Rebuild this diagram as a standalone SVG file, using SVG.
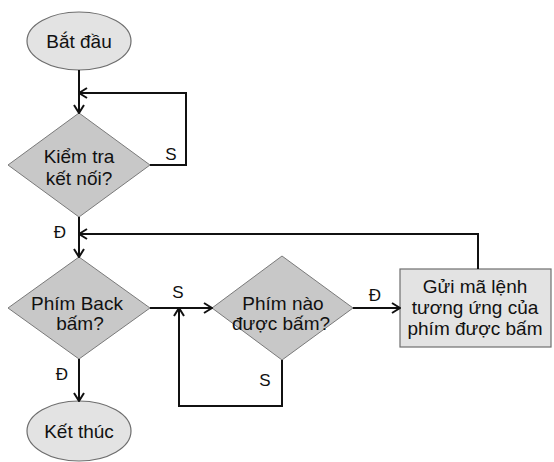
<svg xmlns="http://www.w3.org/2000/svg" width="554" height="462" viewBox="0 0 554 462">
<style>
.term{fill:#e3e3e3;stroke:#6e6e6e;stroke-width:1.2}
.dec{fill:#c8c8c8;stroke:#7a7a7a;stroke-width:1}
.proc{fill:#e3e3e3;stroke:#6e6e6e;stroke-width:1.2}
.t{font-family:"Liberation Sans",Arial,sans-serif;font-size:19px;fill:#111;text-anchor:middle}
.lbl{font-family:"Liberation Sans",Arial,sans-serif;font-size:17px;fill:#111;text-anchor:middle}
.c{fill:none;stroke:#111;stroke-width:2;marker-end:url(#arr)}
</style>
<defs>
<marker id="arr" viewBox="0 0 10 12" markerWidth="10" markerHeight="12" refX="9" refY="6" orient="auto" markerUnits="userSpaceOnUse">
<path d="M1,1 L9,6 L1,11" fill="none" stroke="#111" stroke-width="2"/>
</marker>
</defs>
<g id="start">
<ellipse class="term" cx="79" cy="41" rx="52" ry="29"/>
<text class="t" x="79" y="48">Bắt đầu</text>
</g>
<g id="check">
<polygon class="dec" points="79,113 150,165 79,217 8,165"/>
<text class="t" x="79" y="163">Kiểm tra</text>
<text class="t" x="79" y="185">kết nối?</text>
</g>
<g id="back">
<polygon class="dec" points="79,257 150,308 79,359 8,308"/>
<text class="t" x="77" y="310">Phím Back</text>
<text class="t" x="80" y="330">bấm?</text>
</g>
<g id="which">
<polygon class="dec" points="282,256 353,308 282,360 212,308"/>
<text class="t" x="283" y="310">Phím nào</text>
<text class="t" x="281" y="330">được bấm?</text>
</g>
<g id="send">
<rect class="proc" x="400" y="269" width="151" height="78"/>
<text class="t" x="475" y="293">Gửi mã lệnh</text>
<text class="t" x="475" y="314">tương ứng của</text>
<text class="t" x="475" y="335">phím được bấm</text>
</g>
<g id="end">
<ellipse class="term" cx="79" cy="431" rx="52" ry="30"/>
<text class="t" x="79" y="438">Kết thúc</text>
</g>
<g id="connectors">
<path class="c" d="M79,70 L79,113"/>
<path class="c" d="M150,165 L186,165 L186,93 L79,93"/>
<path class="c" d="M79,217 L79,257"/>
<path class="c" d="M478,269 L478,234 L79,234"/>
<path class="c" d="M150,308 L212,308"/>
<path class="c" d="M282,360 L282,406 L179,406 L179,308"/>
<path class="c" d="M353,308 L400,308"/>
<path class="c" d="M79,359 L79,401"/>
<text class="lbl" x="171" y="160">S</text>
<text class="lbl" x="60" y="238">Đ</text>
<text class="lbl" x="178" y="298">S</text>
<text class="lbl" x="375" y="301">Đ</text>
<text class="lbl" x="265" y="386">S</text>
<text class="lbl" x="62" y="380">Đ</text>
</g>
</svg>
